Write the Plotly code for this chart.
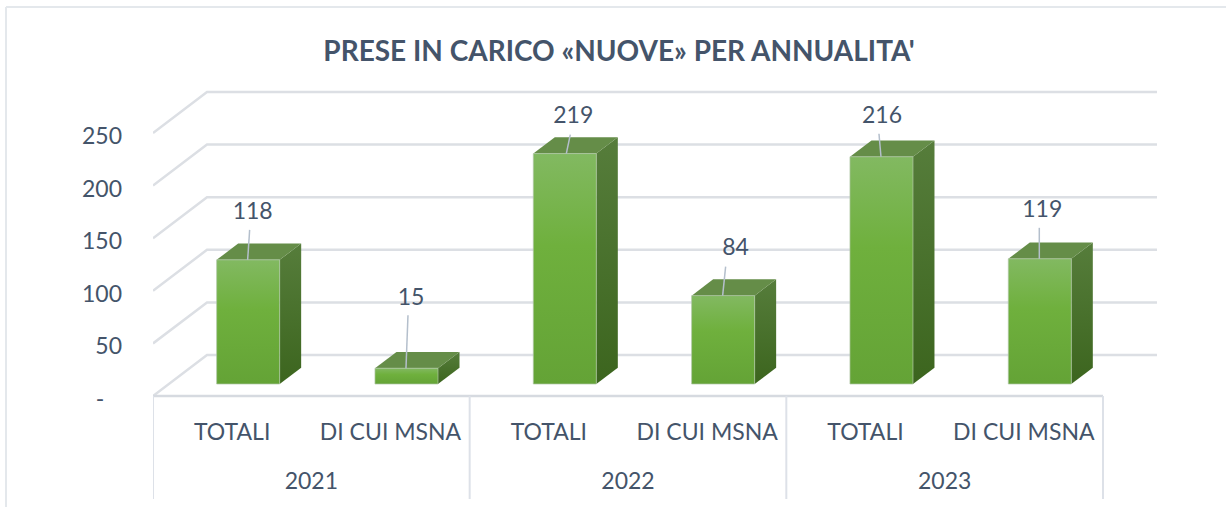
import plotly.graph_objects as go

# ---- data ----
years = ["2021", "2022", "2023"]
categories = ["TOTALI", "DI CUI MSNA"]
values = [118, 15, 219, 84, 216, 119]
y_ticks = [0, 50, 100, 150, 200, 250]
y_tick_labels = ["-\u00a0\u00a0\u00a0", "50", "100", "150", "200", "250"]
title_text = "PRESE IN CARICO «NUOVE» PER ANNUALITA'"

# ---- layout constants (pixels) ----
W, H = 1226, 507
PLOT_L, FLOOR_Y = 153, 396
CAT_PX = 158.33          # pixels per category slot
VAL_PX = 1.052           # pixels per value unit
INK = "#44546A"
FONT = "Lato"
TXT = 23


def dx(px):
    return px / CAT_PX


def dy(px):
    return px / VAL_PX


WALL_X, WALL_Y = dx(54), dy(41)
BAR_L, BAR_W = 0.402, 0.398
BAR_BASE = dy(12)
DEPTH_X, DEPTH_Y = dx(21.5), dy(16.3)
n = len(values)

# per-bar label placement: centre and leader, offsets from the bar's top-left corner
label_off = [(36, 47), (36, 69), (40, 36), (44, 46), (32, 40), (34, 48)]
lead_top = [(33, 30), (33, 53), (37, 19), (34, 29), (29, 23), (31, 31)]
lead_bot = [(31, 0), (31, 0), (33, 0), (31, 0), (31, 0), (31, 0)]

fig = go.Figure()


def line(xs, ys, color, width):
    fig.add_trace(go.Scatter(x=xs, y=ys, mode="lines", cliponaxis=False, hoverinfo="skip",
                             line=dict(color=color, width=width), showlegend=False))


def poly(xs, ys, gradient=None, color=None, edge=None):
    kw = dict(fillgradient=dict(type="vertical", colorscale=gradient)) if gradient else dict(fillcolor=color)
    fig.add_trace(go.Scatter(x=xs, y=ys, mode="lines", fill="toself", cliponaxis=False, hoverinfo="skip",
                             line=dict(color=edge or "rgba(0,0,0,0)", width=1), showlegend=False, **kw))


def text(xs, ys, labels, size=TXT):
    fig.add_trace(go.Scatter(x=xs, y=ys, mode="text", text=labels, cliponaxis=False, hoverinfo="skip",
                             textposition="middle center", showlegend=False,
                             textfont=dict(family=FONT, size=size, color=INK)))


# gridlines: front edge, receding side, back wall
for v in y_ticks:
    line([0, WALL_X, n + WALL_X], [v, v + WALL_Y, v + WALL_Y], "#DCDFE4", 2.5)
line([0, n], [0, 0], "#D6DAE0", 2.5)

# group dividers below the floor
for i in range(len(years) + 1):
    line([i * 2, i * 2], [0, -dy(103)], "#DDE1E8", 2)

# bars
FRONT = [[0, "#64A336"], [0.6, "#6FB03D"], [1, "#82B961"]]
SIDE = [[0, "#3C651E"], [1, "#567D3B"]]
for i, v in enumerate(values):
    l, r = i + BAR_L, i + BAR_L + BAR_W
    b, t = BAR_BASE, BAR_BASE + v
    poly([r, r + DEPTH_X, r + DEPTH_X, r, r], [b, b + DEPTH_Y, t + DEPTH_Y, t, b], gradient=SIDE)
    poly([l, r, r + DEPTH_X, l + DEPTH_X, l], [t, t, t + DEPTH_Y, t + DEPTH_Y, t], color="#658D48")
    poly([l, r, r, l, l], [b, b, t, t, b], gradient=FRONT, edge="rgba(175,198,165,0.7)")
    line([l + dx(lead_bot[i][0]), l + dx(lead_top[i][0])],
         [t + dy(lead_bot[i][1]), t + dy(lead_top[i][1])], "#B4BFCC", 1.5)

# value labels
text([i + BAR_L + dx(label_off[i][0]) for i in range(n)],
     [BAR_BASE + values[i] + dy(label_off[i][1]) for i in range(n)],
     [str(v) for v in values])

# year labels
text([i * 2 + 1 for i in range(len(years))], [-dy(87)] * len(years), years)

left_px = (6 - PLOT_L) / (W - PLOT_L)
top_px = (H - 7) / H

fig.update_layout(
    width=W, height=H, autosize=False,
    margin=dict(l=PLOT_L, r=0, t=0, b=0, pad=0),
    paper_bgcolor="white", plot_bgcolor="rgba(0,0,0,0)",
    showlegend=False, hovermode=False,
    title=dict(text=f"<b>{title_text}</b>", x=619 / W, xanchor="center", y=1 - 51 / H, yanchor="middle",
               font=dict(family=FONT, size=28, color=INK)),
    xaxis=dict(range=[0, (W - PLOT_L) / CAT_PX], showgrid=False, zeroline=False, showline=False, ticks="",
               anchor="free", position=(H - FLOOR_Y) / H,
               tickmode="array", tickvals=[i + 0.5 for i in range(n)], ticktext=categories * len(years),
               ticklabelstandoff=20, tickfont=dict(family=FONT, size=TXT, color=INK)),
    yaxis=dict(range=[-(H - FLOOR_Y) / VAL_PX, FLOOR_Y / VAL_PX], showgrid=False, zeroline=False, showline=False,
               ticks="", tickmode="array", tickvals=y_ticks, ticktext=y_tick_labels,
               ticklabelstandoff=30, ticklabelshift=3, tickfont=dict(family=FONT, size=TXT, color=INK)),
    shapes=[
        dict(type="line", xref="paper", yref="paper", layer="below",
             x0=left_px, x1=left_px, y0=top_px, y1=0, line=dict(color="#E4E8EC", width=2)),
        dict(type="line", xref="paper", yref="paper", layer="below",
             x0=left_px, x1=1, y0=top_px, y1=top_px, line=dict(color="#E4E8EC", width=2)),
    ],
)

fig.write_html("out.html", config=dict(displayModeBar=False),
               post_script="document.body.style.margin='0';document.body.style.overflow='hidden';")
